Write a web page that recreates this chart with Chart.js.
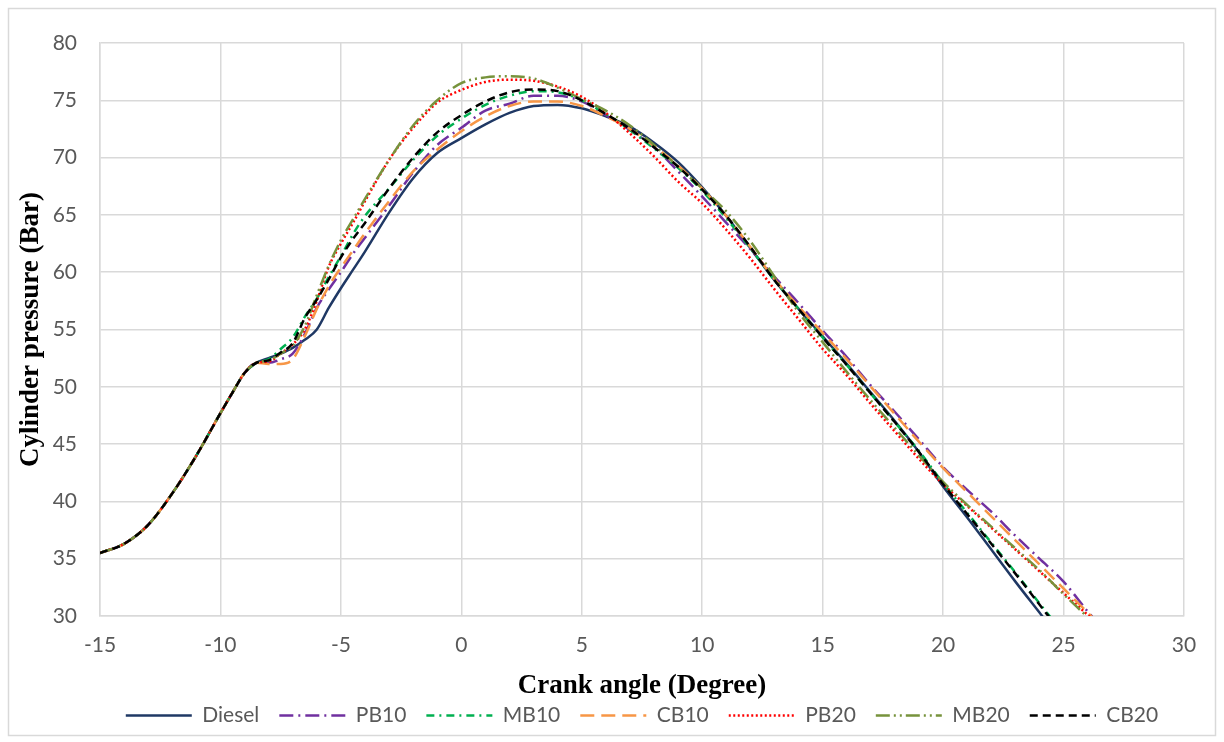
<!DOCTYPE html>
<html>
<head>
<meta charset="utf-8">
<script src="https://cdn.jsdelivr.net/npm/chart.js@4.4.0/dist/chart.umd.min.js"></script>
<style>
  html, body { margin: 0; padding: 0; background: #fff; }
  #wrap { width: 1224px; height: 742px; }
</style>
</head>
<body>
<div id="wrap"><canvas id="pressureChart" width="1224" height="742"></canvas></div>
<script>
// Crank angle (degree) for every reading
const crankAngle = [-15, -14, -13, -12, -11, -10, -9.5, -9, -8.5, -8, -7.5, -7, -6.5, -6, -5.5, -5, -4.5, -4,
  -3, -2, -1, 0, 1, 2, 3, 4, 5, 6, 7, 8, 9, 10, 11, 12, 13, 14, 15, 16, 17, 18, 19, 20, 21, 22, 23, 24, 25, 26, 27];

// Cylinder pressure (bar), one array per fuel
const diesel = [35.5, 36.3, 37.95, 40.7, 44.0, 47.7, 49.5, 51.2, 52.1, 52.5, 52.9, 53.4, 54.1, 55.0, 56.9, 58.6, 60.2, 61.8,
  65.2, 68.2, 70.4, 71.7, 72.9, 73.9, 74.5, 74.6, 74.3, 73.6, 72.7, 71.3, 69.6, 67.4, 64.9, 62.1, 59.3, 56.8, 54.4, 52.0, 49.5,
  47.0, 44.3, 41.3, 38.6, 35.8, 33.0, 30.3, 27.6, 25.0, 22.4];
const pb10 = [35.5, 36.3, 37.95, 40.7, 44.0, 47.7, 49.5, 51.2, 52.1, 52.1, 52.4, 52.9, 54.6, 56.9, 58.5, 60.0, 61.6, 63.0,
  65.8, 68.7, 71.1, 72.6, 74.1, 74.7, 75.4, 75.4, 74.9, 73.7, 72.4, 70.9, 68.8, 66.6, 64.3, 62.0, 59.6, 57.3, 54.9, 52.6, 50.1,
  47.8, 45.4, 43.0, 41.0, 39.1, 37.0, 35.0, 33.0, 30.4, 28.0];
const mb10 = [35.5, 36.3, 37.95, 40.7, 44.0, 47.7, 49.5, 51.2, 52.1, 52.4, 53.3, 54.3, 56.1, 57.7, 59.6, 61.4, 63.3, 64.9,
  67.3, 69.8, 71.9, 73.4, 74.6, 75.4, 75.8, 75.7, 75.0, 73.8, 72.4, 70.8, 69.1, 67.1, 64.7, 62.1, 59.3, 56.8, 54.3, 51.9, 49.4,
  46.9, 44.4, 41.6, 39.0, 36.4, 33.8, 31.1, 28.5, 25.9, 23.3];
const cb10 = [35.5, 36.3, 37.95, 40.7, 44.0, 47.7, 49.5, 51.2, 52.1, 52.0, 52.0, 52.4, 54.4, 56.8, 58.8, 60.4, 61.9, 63.4,
  66.2, 68.8, 70.7, 72.3, 73.6, 74.5, 74.9, 74.9, 74.5, 73.6, 72.5, 71.0, 69.3, 67.3, 64.9, 62.2, 59.4, 57.0, 54.7, 52.4, 50.0,
  47.6, 45.2, 42.9, 40.8, 38.7, 36.6, 34.5, 32.4, 30.3, 28.2];
const pb20 = [35.5, 36.3, 37.95, 40.7, 44.0, 47.7, 49.5, 51.2, 52.1, 52.2, 52.9, 53.7, 55.0, 57.5, 60.5, 62.5, 64.3, 66.2,
  69.8, 72.6, 74.8, 75.9, 76.6, 76.8, 76.7, 76.2, 75.3, 73.9, 72.1, 70.1, 67.9, 66.0, 63.7, 61.2, 58.5, 55.9, 53.3, 51.0, 48.5,
  46.1, 43.7, 41.5, 39.6, 37.7, 35.8, 33.9, 32.0, 30.1, 28.2];
const mb20 = [35.5, 36.3, 37.95, 40.7, 44.0, 47.7, 49.5, 51.2, 52.1, 52.3, 52.9, 53.6, 55.3, 58.0, 60.6, 62.8, 64.6, 66.4,
  69.8, 72.8, 75.0, 76.5, 77.0, 77.1, 76.9, 76.1, 75.1, 74.1, 72.8, 71.1, 69.2, 67.3, 65.3, 62.7, 59.6, 56.5, 53.9, 51.3, 48.8,
  46.4, 44.0, 41.7, 39.7, 37.8, 35.9, 34.0, 31.9, 29.9, 27.8];
const cb20 = [35.5, 36.3, 37.95, 40.7, 44.0, 47.7, 49.5, 51.2, 52.1, 52.3, 53.0, 53.8, 56.0, 57.6, 59.4, 61.3, 62.9, 64.3,
  67.3, 70.0, 72.2, 73.7, 74.9, 75.7, 75.95, 75.8, 75.0, 73.8, 72.5, 70.9, 69.2, 67.2, 64.9, 62.2, 59.3, 56.8, 54.3, 51.9, 49.4,
  46.9, 44.3, 41.5, 38.9, 36.3, 33.7, 31.0, 28.3, 25.7, 23.0];

// build {x, y} points from the arrays above
function toPoints(values) {
    return crankAngle.map((a, i) => ({ x: a, y: values[i] }));
}

function makeSeries(label, values, color, dash, order) {
    return {
        label: label,
        data: toPoints(values),
        borderColor: color,
        backgroundColor: color,
        borderWidth: 2.5,
        borderDash: dash,
        pointRadius: 0,
        pointHoverRadius: 0,
        cubicInterpolationMode: 'monotone',
        fill: false,
        order: order
    };
}

// white background and the light grey frame round the chart
const framePlugin = {
    id: 'frame',
    beforeDraw(chart) {
        const ctx = chart.ctx;
        ctx.save();
        ctx.fillStyle = '#ffffff';
        ctx.fillRect(0, 0, chart.width, chart.height);
        ctx.strokeStyle = '#D9D9D9';
        ctx.lineWidth = 1.5;
        ctx.strokeRect(8.5, 8.5, 1207, 727);
        ctx.restore();
    }
};

const tickFont = { family: 'Lato', size: 21 };
const titleFont = { family: 'Liberation Serif', size: 27, weight: 'bold' };

const ctx = document.getElementById('pressureChart').getContext('2d');
new Chart(ctx, {
    type: 'line',
    data: {
        datasets: [
            makeSeries('Diesel', diesel, '#1F3864', [], 7),
            makeSeries('PB10', pb10, '#7030A0', [14, 5, 2, 5], 6),
            makeSeries('MB10', mb10, '#00B050', [8, 5, 2, 5], 5),
            makeSeries('CB10', cb10, '#F79646', [14, 7], 4),
            makeSeries('PB20', pb20, '#FF0000', [2, 2.5], 3),
            makeSeries('MB20', mb20, '#77933C', [14, 4, 2, 4, 2, 4], 2),
            makeSeries('CB20', cb20, '#000000', [8, 5], 1)
        ]
    },
    options: {
        responsive: false,
        animation: false,
        devicePixelRatio: 1,
        layout: { padding: { left: 8, right: 40, top: 43, bottom: 6 } },
        plugins: {
            tooltip: { enabled: false },
            legend: {
                position: 'bottom',
                fullSize: false,
                labels: {
                    usePointStyle: true,
                    pointStyle: 'line',
                    pointStyleWidth: 66,
                    padding: 20,
                    color: '#595959',
                    font: { family: 'Lato', size: 21 },
                    // point style loses the dash pattern, so copy it from the dataset
                    generateLabels: (chart) => {
                        const items = Chart.defaults.plugins.legend.labels.generateLabels(chart);
                        items.forEach(item => {
                            const ds = chart.data.datasets[item.datasetIndex];
                            item.lineDash = ds.borderDash;
                            item.lineWidth = ds.borderWidth;
                            item.strokeStyle = ds.borderColor;
                        });
                        return items;
                    },
                    sort: (a, b) => a.datasetIndex - b.datasetIndex
                }
            }
        },
        scales: {
            x: {
                type: 'linear',
                min: -15,
                max: 30,
                ticks: { stepSize: 5, color: '#595959', font: tickFont, padding: 17 },
                grid: { color: '#D9D9D9', lineWidth: 1.5, drawTicks: false },
                border: { color: '#D9D9D9', width: 1.5 },
                title: {
                    display: true,
                    text: 'Crank angle (Degree)',
                    color: '#000000',
                    font: titleFont,
                    padding: { top: 0, bottom: -17 }
                },
                afterFit: (scale) => { scale.height = 69; }
            },
            y: {
                min: 30,
                max: 80,
                ticks: { stepSize: 5, color: '#595959', font: tickFont, padding: 23 },
                grid: { color: '#D9D9D9', lineWidth: 1.5, drawTicks: false },
                border: { color: '#D9D9D9', width: 1.5 },
                title: {
                    display: true,
                    text: 'Cylinder pressure (Bar)',
                    color: '#000000',
                    font: titleFont,
                    padding: { top: 7, bottom: 0 }
                },
                afterFit: (scale) => { scale.width = 92; }
            }
        }
    },
    plugins: [framePlugin]
});
</script>
</body>
</html>
